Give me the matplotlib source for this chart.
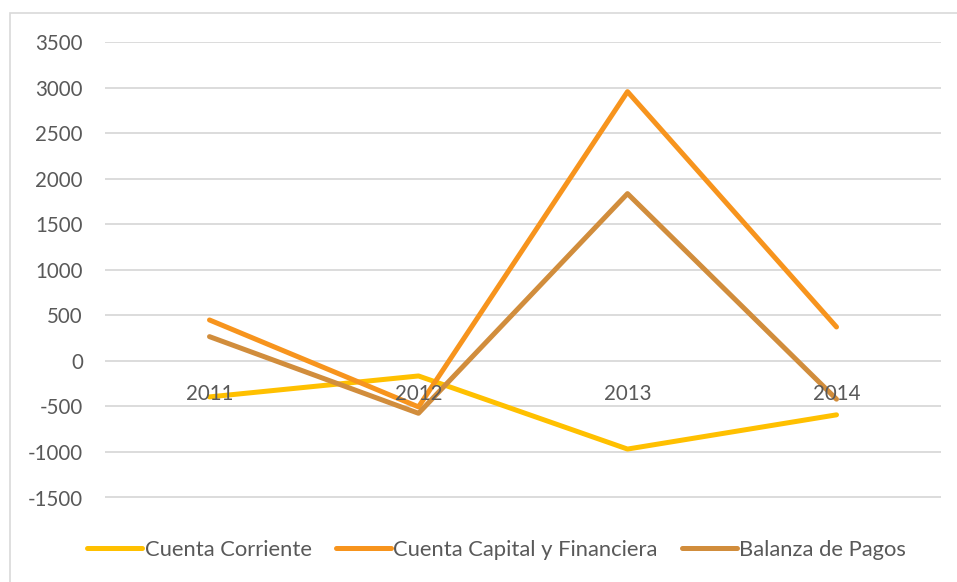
import matplotlib
matplotlib.use("Agg")
import matplotlib.pyplot as plt
from matplotlib.patches import Rectangle

# datos
years = ["2011", "2012", "2013", "2014"]
cuenta_corriente = [-395, -165, -968, -592]
cuenta_capital = [450, -505, 2958, 373]
balanza_pagos = [267, -575, 1838, -420]
y_ticks = [-1500, -1000, -500, 0, 500, 1000, 1500, 2000, 2500, 3000, 3500]

plt.rcParams["font.family"] = ["Lato", "DejaVu Sans"]
text_color = "#595959"
grid_color = "#D9D9D9"
fs = 14.8

fig = plt.figure(figsize=(9.57, 5.82), dpi=100)
ax = fig.add_axes([105 / 957, 1 - 497.5 / 582, 836 / 957, (497.5 - 42.3) / 582])

# borde del grafico (solo arriba e izquierda visibles)
fig.patches.append(Rectangle((10 / 957, -0.1), 1.2, 1 - 13 / 582 + 0.1,
                             transform=fig.transFigure, fill=False,
                             edgecolor=grid_color, linewidth=1.2))

x = list(range(len(years)))
ax.plot(x, cuenta_corriente, color="#FFC000", lw=3.6, solid_capstyle="round",
        solid_joinstyle="round", label="Cuenta Corriente")
ax.plot(x, cuenta_capital, color="#F7941D", lw=3.6, solid_capstyle="round",
        solid_joinstyle="round", label="Cuenta Capital y Financiera")
ax.plot(x, balanza_pagos, color="#D18D3C", lw=3.6, solid_capstyle="round",
        solid_joinstyle="round", label="Balanza de Pagos")

ax.set_xlim(-0.5, len(years) - 0.5)
ax.set_ylim(-1500, 3500)
ax.set_yticks(y_ticks)
ax.set_yticklabels([str(v) for v in y_ticks])
ax.yaxis.grid(True, color=grid_color, lw=1.3)
ax.set_axisbelow(True)
ax.set_xticks([])
ax.tick_params(axis="y", length=0, pad=16, labelsize=fs, labelcolor=text_color)
for s in ax.spines.values():
    s.set_visible(False)

# etiquetas de categoria junto al eje (cruza en 0)
for i, yr in enumerate(years):
    ax.annotate(yr, (i, 0), xytext=(0, -23), textcoords="offset pixels",
                ha="center", va="top", fontsize=fs, color=text_color)

leg = fig.legend(loc="center", bbox_to_anchor=(0.519, 1 - 550 / 582), ncol=3,
                 frameon=False, fontsize=15.8, handlelength=2.5,
                 handletextpad=0.12, columnspacing=1.1)
for t in leg.get_texts():
    t.set_color(text_color)

plt.savefig("out.png", dpi=100)
plt.close()
